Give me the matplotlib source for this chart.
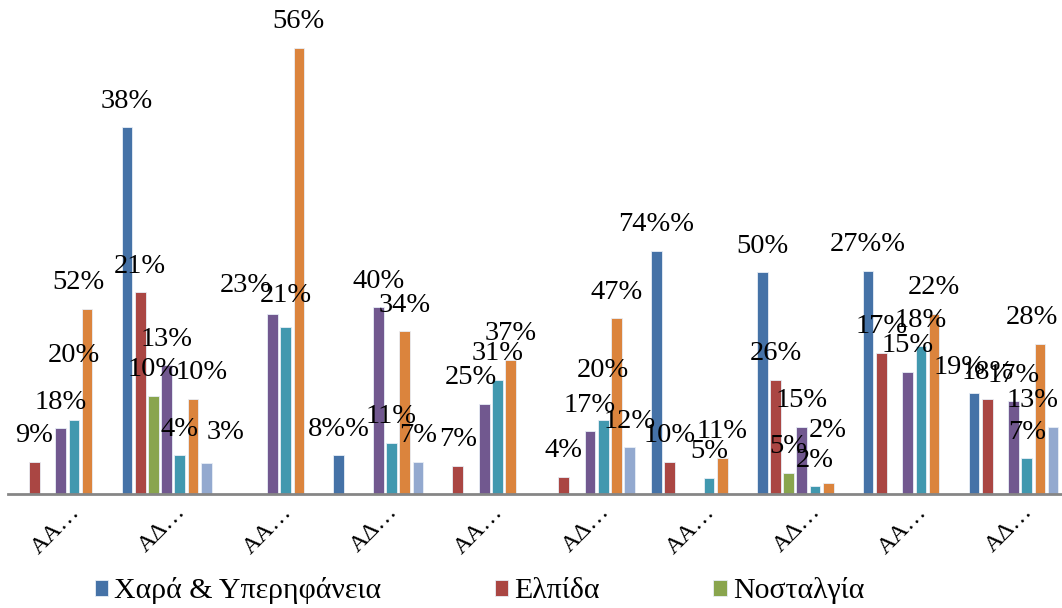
import numpy as np
import matplotlib
matplotlib.use('Agg')
from matplotlib import pyplot as plt
from matplotlib.transforms import ScaledTranslation

categories = ['ΑΑ…', 'ΑΔ…', 'ΑΑ…', 'ΑΔ…', 'ΑΑ…', 'ΑΔ…', 'ΑΑ…', 'ΑΔ…', 'ΑΑ…', 'ΑΔ…']

# bar heights (the printed labels do not match them)
blue = [0, 46.0, 0, 4.8, 0, 0, 30.5, 27.8, 28.0, 12.6]
red = [4.0, 25.3, 0, 0, 3.5, 2.1, 4.0, 14.3, 17.7, 11.9]
green = [0, 12.3, 0, 0, 0, 0, 0, 2.6, 0, 0]
purple = [8.2, 16.1, 22.6, 23.4, 11.3, 7.8, 0, 8.4, 15.3, 11.6]
teal = [9.2, 4.8, 20.9, 6.4, 14.3, 9.2, 2.0, 0.9, 18.5, 4.4]
orange = [23.2, 11.9, 56.0, 20.4, 16.8, 22.0, 4.5, 1.3, 22.6, 18.8]
lightblue = [0, 3.8, 0, 4.0, 0, 5.8, 0, 0, 0, 8.4]

# data label texts as printed
blue_labels = ['', '38%', '', '8%%', '', '', '74%%', '50%', '27%%', '19%']
red_labels = ['9%', '21%', '', '', '7%', '4%', '10%', '26%', '17%', '18%']
green_labels = ['', '10%', '', '', '', '', '', '5%', '', '']
purple_labels = ['18%', '13%', '23%', '40%', '25%', '17%', '', '15%', '15%', '17%']
teal_labels = ['20%', '4%', '21%', '11%', '31%', '20%', '5%', '2%', '18%', '7%']
orange_labels = ['52%', '10%', '56%', '34%', '37%', '47%', '11%', '2%', '22%', '28%']
lightblue_labels = ['', '3%', '', '7%', '', '12%', '', '', '', '13%']

legend_names = ['Χαρά & Υπερηφάνεια', 'Ελπίδα', 'Νοσταλγία']

series = [blue, red, green, purple, teal, orange, lightblue]
labels = [blue_labels, red_labels, green_labels, purple_labels,
          teal_labels, orange_labels, lightblue_labels]
colours = ['#4572A7', '#AA4643', '#89A54E', '#71588F', '#4198AF', '#DB843D', '#93A9CF']

# hand moved labels in the original: (series, group) -> (dx, dy) in pixels
nudges = {
    (5, 0): (-9, 0), (4, 0): (0, 39),
    (5, 1): (9, 0), (6, 1): (19, 5),
    (3, 2): (-27, 2), (4, 2): (0, 6),
    (3, 4): (-13, 0),
    (4, 5): (0, 24),
    (5, 7): (0, 27),
    (0, 9): (-14, 0), (5, 9): (-8, 0), (6, 9): (-21, 0),
}

plt.rcParams['font.family'] = ['Liberation Serif', 'DejaVu Serif']

fig = plt.figure(figsize=(10.62, 6.08), dpi=100)
ax = fig.add_axes([7.8 / 1062, 114.5 / 608, 1058.7 / 1062, 493.5 / 608])

x = np.arange(len(categories))
slot = 0.1246
for i, (values, texts, colour) in enumerate(zip(series, labels, colours)):
    values = np.array(values, dtype=float)
    values[values == 0] = np.nan
    pos = x + (i - 3) * slot
    name = legend_names[i] if i < len(legend_names) else None
    ax.bar(pos, values, width=0.101, color=colour, edgecolor='#E8EEF6',
           linewidth=0.6, label=name, zorder=2)
    for g, (px, h, t) in enumerate(zip(pos, values, texts)):
        if not t:
            continue
        dx, dy = nudges.get((i, g), (0, 0))
        ax.annotate(t, (px, h), xytext=(dx, 26 + dy), textcoords='offset pixels',
                    ha='center', va='center', fontsize=20.5, color='black',
                    annotation_clip=False, zorder=3)

ax.set_xlim(-0.5, 9.5)
ax.set_ylim(0, 493.5 / 7.96)
for side in ['top', 'right', 'left']:
    ax.spines[side].set_visible(False)
ax.spines['bottom'].set_color('#868686')
ax.spines['bottom'].set_linewidth(2)
ax.set_yticks([])
ax.set_xticks(x)
ax.set_xticklabels(categories, rotation=45, ha='right', va='center',
                   rotation_mode='anchor', fontsize=17.5)
ax.tick_params(axis='x', length=0, pad=11)
shift = ScaledTranslation(16 / 100, 0, fig.dpi_scale_trans)
for lab in ax.get_xticklabels():
    lab.set_transform(lab.get_transform() + shift)

fig.legend(loc='center left', bbox_to_anchor=(95 / 1062, 1 - 591 / 608), ncol=3,
           frameon=False, fontsize=21.5, handlelength=0.45, handleheight=0.45,
           handletextpad=0.2, columnspacing=3.8, borderpad=0, borderaxespad=0)

fig.savefig('out.png', dpi=100)
